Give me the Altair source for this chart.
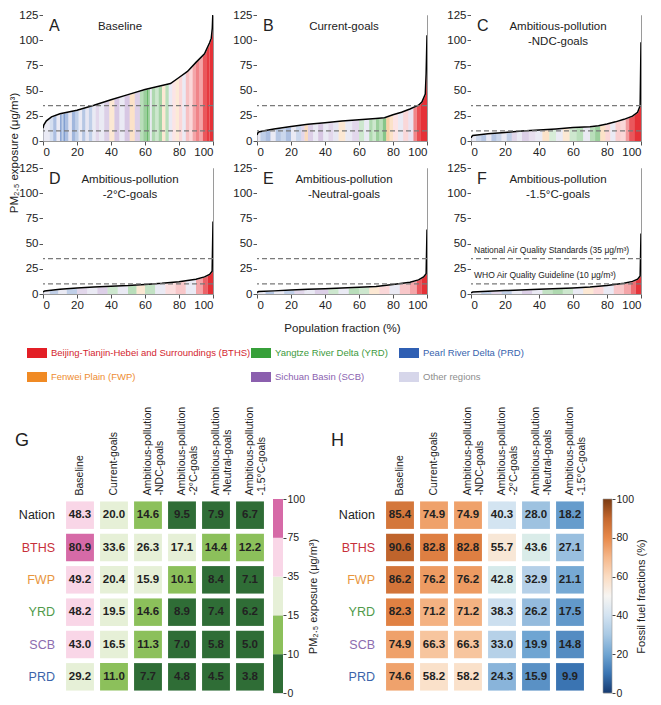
import altair as alt
import pandas as pd

FONT = "Liberation Sans, Arial, sans-serif"

# ---------------- data: curves (population fraction %, PM2.5) ----------------
A_x = [0, 0.5, 2, 5, 10, 20, 30, 40, 50, 60, 70, 75, 80, 85, 90, 95, 98, 99, 99.6, 100]
A_y = [12.6, 16, 20, 24, 27, 30.5, 35.5, 41, 46, 51, 55, 57, 63, 69, 78, 86.5, 97.5, 102, 112, 130]
B_x = [0, 0.5, 1, 5, 10, 20, 30, 40, 50, 60, 70, 75, 80, 85, 90, 95, 97, 99, 99.5, 100]
B_y = [6, 8, 9, 10.4, 12, 14.5, 16.7, 18.2, 19.8, 21, 22.3, 23, 26, 28.6, 31.8, 35.5, 38.7, 46.5, 67, 105]
C_x = [0, 0.5, 1, 5, 10, 20, 30, 40, 50, 60, 70, 75, 80, 85, 90, 95, 98, 99.5, 100]
C_y = [3, 4.5, 5.4, 6.3, 7.3, 8.5, 10, 11, 12, 13.3, 14.2, 15.2, 16.8, 19, 21.5, 24.7, 28.5, 35, 98]
D_x = [0, 1, 10, 20, 30, 40, 50, 60, 70, 80, 90, 95, 98, 99.5, 100]
D_y = [2, 3, 4.7, 6, 6.9, 7.8, 8.4, 9.4, 10.6, 12.2, 14.7, 17, 19.4, 22.5, 72]
E_x = [0, 1, 10, 20, 30, 40, 50, 60, 70, 80, 90, 95, 98, 99.5, 100]
E_y = [1.6, 2.5, 3.1, 4, 4.7, 5.3, 5.9, 6.6, 7.5, 9.4, 11.6, 14, 17, 20, 64]
F_x = [0, 1, 10, 20, 40, 60, 70, 80, 90, 95, 98, 99.5, 100]
F_y = [1.2, 2, 2.8, 3.4, 4.7, 6, 6.9, 8.4, 10.6, 12.5, 14.7, 17.8, 60]

# ---------------- data: region stripes (breaks, region, strength) ----------------
A_br = [0, 4, 6, 8, 10, 11, 12, 13, 15, 17, 19, 21, 23, 25, 27, 29, 31, 33, 36, 39, 42, 45, 48, 51, 54, 57,
        59, 61, 62, 63, 64, 66, 68, 70, 72, 74, 76, 78, 80, 82, 84, 86, 88, 90, 92, 94, 96, 98, 100]
A_rg = ["OTH", "PRD", "PRD", "OTH", "PRD", "PRD", "PRD", "PRD", "OTH", "PRD", "PRD", "OTH", "PRD", "OTH",
        "PRD", "OTH", "SCB", "OTH", "SCB", "FWP", "SCB", "OTH", "SCB", "FWP", "SCB", "YRD", "YRD", "YRD",
        "YRD", "OTH", "YRD", "YRD", "YRD", "FWP", "YRD", "OTH", "BTHS", "FWP", "BTHS", "OTH", "BTHS",
        "BTHS", "BTHS", "BTHS", "BTHS", "BTHS", "BTHS", "BTHS"]
A_al = [0.5, 0.2, 0.4, 0.5, 0.55, 0.3, 0.6, 0.4, 0.6, 0.45, 0.3, 0.5, 0.35, 0.6, 0.3, 0.5, 0.25, 0.5,
        0.3, 0.2, 0.35, 0.5, 0.35, 0.25, 0.3, 0.35, 0.5, 0.75, 0.45, 0.5, 0.4, 0.25, 0.45, 0.2, 0.35, 0.5,
        0.12, 0.18, 0.18, 0.5, 0.28, 0.18, 0.4, 0.55, 0.4, 0.75, 0.88, 0.92]
B_br = [0, 2, 5, 8, 11, 14, 17, 20, 23, 26, 28, 30, 33, 36, 39, 42, 45, 48, 52, 56, 60, 63, 66, 68, 70,
        72, 74, 76, 78, 80, 83, 86, 89, 92, 94, 96, 100]
B_rg = ["OTH", "PRD", "PRD", "OTH", "PRD", "PRD", "PRD", "OTH", "PRD", "SCB", "FWP", "SCB", "OTH", "SCB",
        "OTH", "SCB", "OTH", "FWP", "OTH", "SCB", "YRD", "OTH", "YRD", "YRD", "YRD", "YRD", "YRD", "FWP",
        "FWP", "BTHS", "OTH", "BTHS", "SCB", "BTHS", "BTHS", "BTHS"]
B_al = [0.5, 0.3, 0.4, 0.5, 0.35, 0.25, 0.4, 0.5, 0.25, 0.25, 0.3, 0.3, 0.5, 0.35, 0.5, 0.25, 0.6, 0.2,
        0.5, 0.25, 0.25, 0.5, 0.4, 0.25, 0.5, 0.35, 0.6, 0.4, 0.25, 0.12, 0.5, 0.18, 0.18, 0.55, 0.8, 0.92]
C_br = [0, 3, 6, 9, 12, 15, 18, 21, 24, 27, 30, 34, 38, 42, 46, 50, 54, 58, 62, 66, 70, 73, 76, 79, 82,
        85, 88, 91, 93, 96, 100]
C_rg = ["OTH", "PRD", "PRD", "OTH", "PRD", "PRD", "OTH", "PRD", "SCB", "OTH", "SCB", "SCB", "OTH", "FWP",
        "YRD", "OTH", "FWP", "YRD", "YRD", "OTH", "YRD", "YRD", "FWP", "BTHS", "OTH", "BTHS", "BTHS",
        "BTHS", "BTHS", "BTHS"]
C_al = [0.5, 0.25, 0.35, 0.5, 0.35, 0.25, 0.5, 0.3, 0.25, 0.5, 0.3, 0.2, 0.5, 0.25, 0.2, 0.5, 0.2, 0.25,
        0.35, 0.5, 0.35, 0.5, 0.25, 0.18, 0.5, 0.22, 0.18, 0.45, 0.75, 0.92]
D_br = [0, 4, 9, 14, 20, 26, 32, 38, 44, 50, 55, 60, 66, 72, 78, 84, 90, 94, 97, 100]
D_rg = ["OTH", "PRD", "OTH", "PRD", "SCB", "OTH", "SCB", "YRD", "OTH", "YRD", "FWP", "YRD", "OTH",
        "BTHS", "BTHS", "OTH", "BTHS", "BTHS", "BTHS"]
D_al = [0.5, 0.3, 0.5, 0.3, 0.25, 0.5, 0.3, 0.25, 0.5, 0.35, 0.2, 0.3, 0.5, 0.15, 0.25, 0.5, 0.4, 0.7, 0.92]
E_br = [0, 5, 10, 16, 22, 28, 34, 42, 48, 54, 60, 66, 72, 78, 84, 90, 94, 97, 100]
E_rg = ["OTH", "PRD", "OTH", "PRD", "SCB", "OTH", "SCB", "YRD", "OTH", "YRD", "YRD", "FWP", "BTHS",
        "OTH", "BTHS", "BTHS", "BTHS", "BTHS"]
E_al = [0.5, 0.35, 0.5, 0.3, 0.25, 0.5, 0.3, 0.25, 0.5, 0.35, 0.25, 0.2, 0.18, 0.5, 0.25, 0.4, 0.75, 0.92]
F_br = [0, 6, 12, 18, 24, 30, 36, 42, 48, 54, 60, 66, 72, 78, 84, 90, 94, 97, 100]
F_rg = ["OTH", "PRD", "SCB", "PRD", "OTH", "SCB", "OTH", "YRD", "YRD", "YRD", "OTH", "FWP", "BTHS",
        "OTH", "BTHS", "BTHS", "BTHS", "BTHS"]
F_al = [0.5, 0.3, 0.25, 0.3, 0.5, 0.3, 0.5, 0.3, 0.4, 0.25, 0.5, 0.2, 0.18, 0.5, 0.25, 0.4, 0.65, 0.9]

region_codes = ["BTHS", "FWP", "YRD", "SCB", "PRD", "OTH"]
region_colors = ["#e31f26", "#f08a24", "#37a03a", "#8b5fae", "#2f5fb3", "#d6d6ea"]
legend_labels = ["Beijing-Tianjin-Hebei and Surroundings (BTHS)", "Yangtze River Delta (YRD)",
                 "Pearl River Delta (PRD)", "Fenwei Plain (FWP)", "Sichuan Basin (SCB)", "Other regions"]
legend_codes = ["BTHS", "YRD", "PRD", "FWP", "SCB", "OTH"]
legend_text_colors = ["#d3262f", "#3d9a3d", "#3763ad", "#ee8c2f", "#8b63b0", "#8d8d8d"]

guide_levels = [35, 10]
x_ticks = [0, 20, 40, 60, 80, 100]
y_ticks = [0, 25, 50, 75, 100, 125]

# ---------------- data: heatmaps ----------------
rows = ["Nation", "BTHS", "FWP", "YRD", "SCB", "PRD"]
row_colors = ["#222222", "#c8303a", "#e8963e", "#4f9a4a", "#8c6cb0", "#3b64aa"]
scenarios = ["Baseline", "Current-goals", "Ambitious-pollution|-NDC-goals", "Ambitious-pollution|-2°C-goals",
             "Ambitious-pollution|-Neutral-goals", "Ambitious-pollution|-1.5°C-goals"]
pm_vals = [
    [48.3, 20.0, 14.6, 9.5, 7.9, 6.7],
    [80.9, 33.6, 26.3, 17.1, 14.4, 12.2],
    [49.2, 20.4, 15.9, 10.1, 8.4, 7.1],
    [48.2, 19.5, 14.6, 8.9, 7.4, 6.2],
    [43.0, 16.5, 11.3, 7.0, 5.8, 5.0],
    [29.2, 11.0, 7.7, 4.8, 4.5, 3.8],
]
ff_vals = [
    [85.4, 74.9, 74.9, 40.3, 28.0, 18.2],
    [90.6, 82.8, 82.8, 55.7, 43.6, 27.1],
    [86.2, 76.2, 76.2, 42.8, 32.9, 21.1],
    [82.3, 71.2, 71.2, 38.3, 26.2, 17.5],
    [74.9, 66.3, 66.3, 33.0, 19.9, 14.8],
    [74.6, 58.2, 58.2, 24.3, 15.9, 9.9],
]
pm_bins = [10, 15, 35, 75]
pm_bin_labels = ["0", "10", "15", "35", "75", "100"]
pm_colors = ["#2f6d36", "#8cc05b", "#e6f0d7", "#f9d6e7", "#d66aa7"]
ff_domain = [0, 10, 20, 30, 40, 50, 60, 70, 80, 90, 100]
ff_colors = ["#163a70", "#3a75b3", "#70a5d2", "#a9c9e4", "#d3e3f1", "#f7f5f2", "#fbdcc2", "#f5b78a",
             "#e8894a", "#c4672e", "#7a3a12"]

# ---------------- layout constants ----------------
PW, PH = 170, 126
HW, HH = 204, 194
FRAME = "#9a9a9a"
one = pd.DataFrame({"k": [0]})


def panel(letter, title_lines, title_x, cx, cy, br, rg, al, x_title="", notes=False):
    sdf = pd.DataFrame({"x0": br[:-1], "x1": br[1:], "region": rg, "alpha": al})
    cdf = pd.DataFrame({"x": cx, "y": cy})
    xs = alt.Scale(domain=[0, 100], nice=False, zero=False)
    ys = alt.Scale(domain=[0, 125], nice=False)
    xax = dict(values=x_ticks, labelFontSize=11.5, tickSize=4, labelPadding=1, domainColor=FRAME,
               tickColor="#555", labelColor="#222", grid=False, title=x_title)
    if x_title:
        xax.update(titleFontSize=11.5, titleFontWeight="normal", titlePadding=12, titleColor="#222")
    xaxis = alt.Axis(**xax)
    yaxis = alt.Axis(values=y_ticks, labelFontSize=11.5, tickSize=4, labelPadding=1, domainColor=FRAME,
                     tickColor="#555", labelColor="#222", grid=False, title="")

    def X(f):
        return alt.X(f, scale=xs, axis=xaxis)

    def Y(f):
        return alt.Y(f, scale=ys, axis=yaxis)

    stripes = alt.Chart(sdf).mark_rect(clip=True).encode(
        x=X("x0:Q"), x2="x1:Q", y=alt.value(0), y2=alt.value(PH),
        color=alt.Color("region:N", scale=alt.Scale(domain=region_codes, range=region_colors), legend=None),
        opacity=alt.Opacity("alpha:Q", scale=None),
    )
    mask = alt.Chart(cdf).transform_calculate(top="125").mark_area(
        color="white", opacity=1, clip=True, stroke="white", strokeWidth=1.5).encode(
        x=X("x:Q"), y=Y("y:Q"), y2="top:Q")
    line = alt.Chart(cdf).mark_line(color="black", strokeWidth=1.5, clip=True).encode(x=X("x:Q"), y=Y("y:Q"))
    rules = alt.Chart(pd.DataFrame({"g": guide_levels})).mark_rule(
        color="#7a7a7a", strokeDash=[5, 3], strokeWidth=1.3).encode(y=Y("g:Q"))
    let = alt.Chart(one).mark_text(align="left", baseline="top", fontSize=16, font=FONT, color="#222").encode(
        x=alt.value(6), y=alt.value(3), text=alt.value(letter))
    ttl = alt.Chart(one).mark_text(align="center", baseline="top", fontSize=11.5, font=FONT, color="#222",
                                   lineHeight=15).encode(
        x=alt.value(title_x), y=alt.value(6), text=alt.value(title_lines))
    layers = [stripes, mask, line, rules, let, ttl]
    if notes:
        n1 = alt.Chart(one).mark_text(align="left", baseline="bottom", fontSize=8.5, font=FONT,
                                      color="#222").encode(
            x=alt.value(3), y=alt.value(87), text=alt.value("National Air Quality Standards (35 μg/m³)"))
        n2 = alt.Chart(one).mark_text(align="left", baseline="bottom", fontSize=8.5, font=FONT,
                                      color="#222").encode(
            x=alt.value(3), y=alt.value(112), text=alt.value("WHO Air Quality Guideline (10 μg/m³)"))
        layers += [n1, n2]
    return alt.layer(*layers).properties(width=PW, height=PH, view=alt.ViewBackground(stroke=FRAME))


pA = panel("A", "Baseline", 77, A_x, A_y, A_br, A_rg, A_al)
pB = panel("B", "Current-goals", 87, B_x, B_y, B_br, B_rg, B_al)
pC = panel("C", ["Ambitious-pollution", "-NDC-goals"], 87, C_x, C_y, C_br, C_rg, C_al)
pD = panel("D", ["Ambitious-pollution", "-2°C-goals"], 87, D_x, D_y, D_br, D_rg, D_al)
pE = panel("E", ["Ambitious-pollution", "-Neutral-goals"], 87, E_x, E_y, E_br, E_rg, E_al,
           x_title="Population fraction (%)")
pF = panel("F", ["Ambitious-pollution", "-1.5°C-goals"], 87, F_x, F_y, F_br, F_rg, F_al, notes=True)

grid = alt.concat(pA, pB, pC, pD, pE, pF, columns=3, align="each", spacing={"row": 3, "column": 17})

ytitle = alt.Chart(one).mark_text(
    angle=270, fontSize=11.5, font=FONT, color="#222", baseline="middle").encode(
    x=alt.value(6), y=alt.value(PH + 12), text=alt.value("PM₂.₅ exposure (μg/m³)")
).properties(width=12, height=2 * PH + 20)

top = alt.hconcat(ytitle, grid, spacing=-4)

# ---------------- legend ----------------
leg_layers = []
leg_pos = [(18, 9), (242, 9), (390, 9), (18, 33), (242, 33), (390, 33)]
for (lx, ly), lab, code, tc in zip(leg_pos, legend_labels, legend_codes, legend_text_colors):
    sw = region_colors[region_codes.index(code)]
    leg_layers.append(alt.Chart(one).mark_rect(color=sw).encode(
        x=alt.value(lx), x2=alt.value(lx + 20), y=alt.value(ly - 5), y2=alt.value(ly + 5)))
    leg_layers.append(alt.Chart(one).mark_text(align="left", baseline="middle", fontSize=9.5, font=FONT,
                                               color=tc).encode(
        x=alt.value(lx + 24), y=alt.value(ly), text=alt.value(lab)))
legend = alt.layer(*leg_layers).properties(width=620, height=52)


# ---------------- heatmaps ----------------
def heat(letter, vals, color_enc):
    recs = []
    for r, rowvals in zip(rows, vals):
        for s, v in zip(scenarios, rowvals):
            recs.append({"region": r, "scenario": s, "value": v})
    df = pd.DataFrame(recs)
    X = alt.X("scenario:N", sort=scenarios,
              scale=alt.Scale(domain=scenarios, paddingInner=0.18, paddingOuter=0.09),
              axis=alt.Axis(orient="top", labelAngle=270, labelAlign="left", labelBaseline="middle",
                            labelExpr="split(datum.label, '|')", ticks=False, domain=False, title="",
                            labelPadding=4, labelFontSize=10.5, labelLineHeight=12, labelColor="#222",
                            labelFont=FONT, labelLimit=200))
    Y = alt.Y("region:N", sort=rows, scale=alt.Scale(domain=rows, paddingInner=0.15, paddingOuter=0.075),
              axis=None)
    rect = alt.Chart(df).mark_rect().encode(x=X, y=Y, color=color_enc)
    txt = alt.Chart(df).mark_text(fontSize=11.5, fontWeight="bold", font=FONT, color="#222").encode(
        x=X, y=Y, text=alt.Text("value:Q", format=".1f"))
    rl = alt.Chart(pd.DataFrame({"region": rows})).mark_text(align="right", baseline="middle", fontSize=12.5,
                                                              font=FONT).encode(
        y=Y, x=alt.value(-8), text="region:N",
        color=alt.Color("region:N", scale=alt.Scale(domain=rows, range=row_colors), legend=None))
    layers = [rect, txt, rl]
    if letter:
        layers.append(alt.Chart(one).mark_text(align="left", baseline="middle", fontSize=18, font=FONT,
                                               color="#222").encode(
            x=alt.value(-52), y=alt.value(-58), text=alt.value(letter)))
    return alt.layer(*layers).properties(width=HW, height=HH)


pm_color = alt.Color("value:Q", scale=alt.Scale(type="threshold", domain=pm_bins, range=pm_colors), legend=None)
ff_color = alt.Color("value:Q", scale=alt.Scale(domain=ff_domain, range=ff_colors), legend=None)

hG = heat("", pm_vals, pm_color)
hH = heat("H", ff_vals, ff_color)

gLetter = alt.Chart(one).mark_text(align="left", baseline="middle", fontSize=18, font=FONT,
                                   color="#222").encode(
    x=alt.value(6), y=alt.value(-58), text=alt.value("G")).properties(width=14, height=HH)

# colorbar G (equal-height bins)
cbg_df = pd.DataFrame({"lo": list(range(len(pm_colors))), "hi": list(range(1, len(pm_colors) + 1)),
                       "c": pm_colors})
label_expr = "[" + ",".join("'%s'" % s for s in pm_bin_labels) + "][datum.value]"
cbG = alt.Chart(cbg_df).mark_rect().encode(
    y=alt.Y("lo:Q", scale=alt.Scale(domain=[0, 5], nice=False),
            axis=alt.Axis(orient="right", values=list(range(6)), labelExpr=label_expr, tickSize=3,
                          labelFontSize=10.5, labelColor="#222", domain=False, tickColor="#444",
                          title="PM₂.₅ exposure (μg/m³)", titleAngle=270, titleBaseline="top",
                          titleFontSize=11, titleFontWeight="normal", titleColor="#222", titlePadding=3,
                          labelPadding=1)),
    y2="hi:Q", color=alt.Color("c:N", scale=None),
).properties(width=10, height=HH)

# colorbar H (continuous gradient)
stops = [alt.GradientStop(offset=d / 100, color=c) for d, c in zip(ff_domain, ff_colors)]
cbH = alt.Chart(pd.DataFrame({"lo": [0], "hi": [100]})).mark_rect(
    color=alt.Gradient(gradient="linear", stops=stops, x1=0, x2=0, y1=1, y2=0),
    stroke="#999", strokeWidth=0.6).encode(
    y=alt.Y("lo:Q", scale=alt.Scale(domain=[0, 100], nice=False),
            axis=alt.Axis(orient="right", values=[0, 20, 40, 60, 80, 100], tickSize=3, labelFontSize=10.5,
                          labelColor="#222", domain=False, tickColor="#444",
                          title="Fossil fuel fractions (%)", titleAngle=270, titleBaseline="top",
                          titleFontSize=11, titleFontWeight="normal", titleColor="#222", titlePadding=2,
                          labelPadding=1)),
    y2="hi:Q",
).properties(width=9, height=HH)

left_heat = alt.hconcat(gLetter, alt.hconcat(hG, cbG, spacing=4), spacing=-12)
right_heat = alt.hconcat(hH, cbH, spacing=14)
heat_row = alt.hconcat(left_heat, right_heat, spacing=10)

chart = alt.concat(top, legend, heat_row, columns=1, spacing=8).properties(
    padding={"left": 0, "top": 0, "right": 0, "bottom": 0}
).configure(font=FONT).configure_view(stroke="transparent").configure_axis(
    labelFont=FONT, titleFont=FONT)

chart.save("out.html", embed_options={"renderer": "svg", "actions": False})
